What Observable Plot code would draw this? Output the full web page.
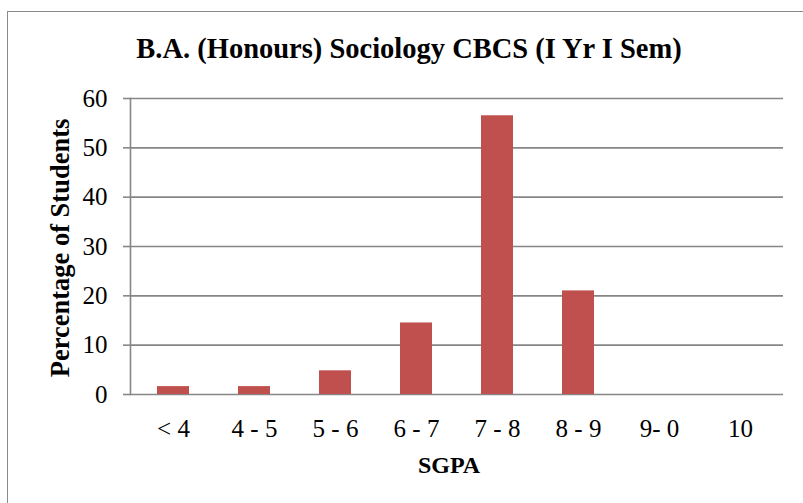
<!DOCTYPE html>
<html>
<head>
<meta charset="utf-8">
<script src="https://cdn.jsdelivr.net/npm/d3@7"></script>
<script src="https://cdn.jsdelivr.net/npm/@observablehq/plot@0.6"></script>
<style>
  html, body { margin: 0; padding: 0; background: #fff; }
  #wrap { position: relative; width: 803px; height: 503px; overflow: hidden; font-family: "Liberation Serif", "Times New Roman", serif; color: #000; }
  #border { position: absolute; left: 7px; top: 11px; width: 820px; height: 520px; border-left: 1.5px solid #8a8a8a; border-top: 1.5px solid #8a8a8a; }
  #title { position: absolute; left: 409px; top: 33px; transform: translateX(-50%); white-space: nowrap; font-weight: bold; font-size: 28.5px; line-height: 1.15; }
  #ylabel { position: absolute; left: 60px; top: 248px; transform: translate(-50%, -50%) rotate(-90deg); white-space: nowrap; font-weight: bold; font-size: 26.5px; line-height: 1.15; }
  #xlabel { position: absolute; left: 449px; top: 452px; transform: translateX(-50%); white-space: nowrap; font-weight: bold; font-size: 24px; line-height: 1.15; }
  #chart { position: absolute; left: 0; top: 0; }
  .sgpa-chart text { font-size: 25px; }
</style>
</head>
<body>
<div id="wrap">
  <div id="border"></div>
  <div id="chart"></div>
  <div id="title">B.A. (Honours) Sociology CBCS (I Yr I Sem)</div>
  <div id="ylabel">Percentage of Students</div>
  <div id="xlabel">SGPA</div>
</div>
<script>
const categories = ["< 4", "4 - 5", "5 - 6", "6 - 7", "7 - 8", "8 - 9", "9- 0", "10"];
const percentages = [1.6, 1.6, 4.8, 14.5, 56.5, 21.0, 0, 0];
const yTicks = [0, 10, 20, 30, 40, 50, 60];

const data = categories.map((c, i) => ({ sgpa: c, pct: percentages[i] }));

const chart = Plot.plot({
  className: "sgpa-chart",
  width: 803,
  height: 503,
  marginLeft: 130,
  marginRight: 20,
  marginTop: 98,
  marginBottom: 109,
  style: { fontFamily: '"Liberation Serif", "Times New Roman", serif', fontSize: "25px", color: "#000", background: "transparent", overflow: "visible" },
  x: { domain: categories, paddingInner: 0.6, paddingOuter: 0.3, label: null },
  y: { domain: [0, 60], ticks: yTicks, label: null },
  marks: [
    Plot.gridY(yTicks, { stroke: "#868686", strokeOpacity: 1, strokeWidth: 1.6 }),
    Plot.axisY(yTicks, { tickSize: 7, tickPadding: 16, stroke: "#868686", strokeWidth: 1.6, fill: "#000", label: null }),
    Plot.frame({ anchor: "left", stroke: "#868686", strokeWidth: 1.6 }),
    Plot.barY(data, { x: "sgpa", y: "pct", fill: "#C0504D" }),
    Plot.axisX({ tickSize: 0, tickPadding: 25, fill: "#000", label: null })
  ]
});
document.getElementById("chart").appendChild(chart);
</script>
</body>
</html>
